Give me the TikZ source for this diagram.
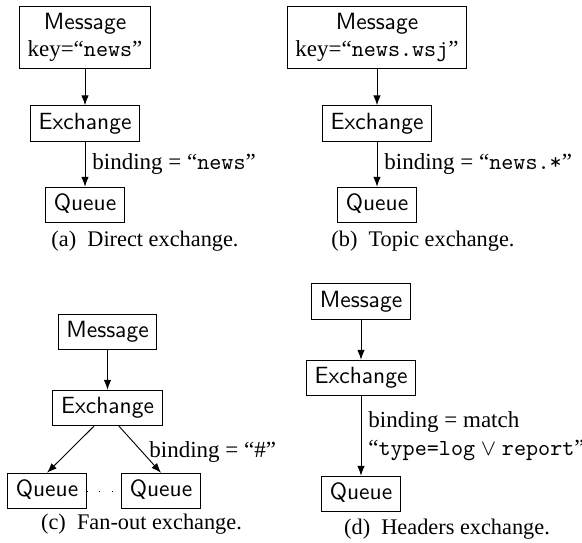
\documentclass[tikz,border=0pt]{standalone}
\usepackage{fontspec}
\setmainfont{Liberation Serif}
\usetikzlibrary{arrows.meta}
\begin{document}
\begin{tikzpicture}[x=0.4348pt,y=-0.4348pt,
  box/.style={draw, font=\fontsize{10.2}{12}\sffamily, inner xsep=3.6pt, inner ysep=3.2pt, text height=7pt, text depth=2pt},
  msgbox/.style={draw, align=center, inner xsep=3.5pt, inner ysep=3pt},
  flow/.style={-{Latex[length=4.3pt,width=3.2pt]}},
  lbl/.style={right, inner sep=3pt, align=left},
  dotline/.style={dash pattern=on 0.4pt off 5pt},
  captxt/.style={inner sep=0pt, anchor=base, font=\fontsize{9.7}{11.6}\selectfont}]
\useasboundingbox (0,0) rectangle (582,543);
% (a)
\node[msgbox] (ma) at (85,37.5) {{\fontsize{10.2}{12}\sffamily Message}\\key=“\texttt{news}”};
\node[box] (ea) at (85,123.5) {Exchange};
\node[box] (qa) at (85,205) {Queue};
\draw[flow] (ma) -- (ea);
\draw[flow] (ea) -- node[lbl] {binding = “\texttt{news}”} (qa);
\node[captxt] (capa) at (145,247) {(a)\enspace Direct exchange.};
% (b)
\node[msgbox] (mb) at (377,37.5) {{\fontsize{10.2}{12}\sffamily Message}\\key=“\texttt{news.wsj}”};
\node[box] (eb) at (377,123.5) {Exchange};
\node[box] (qb) at (377,205) {Queue};
\draw[flow] (mb) -- (eb);
\draw[flow] (eb) -- node[lbl] {binding = “\texttt{news.*}”} (qb);
\node[captxt] (capb) at (423,247) {(b)\enspace Topic exchange.};
% (c)
\node[box] (mc) at (107.5,332) {Message};
\node[box] (ec) at (107.5,408) {Exchange};
\node[box] (qc1) at (47,491) {Queue};
\node[box] (qc2) at (161,491) {Queue};
\draw[flow] (mc) -- (ec);
\coordinate (ecl) at ([xshift=-13.5*0.4348pt]ec.south);
\coordinate (ecr) at ([xshift=11.5*0.4348pt]ec.south);
\draw[flow] (ecl) -- (qc1.north);
\draw[flow] (ecr) -- node[lbl, pos=0.55] {binding = “\#”} (qc2.north);
\draw[dotline] (qc1) -- (qc2);
\node[captxt] (capc) at (141.5,530) {(c)\enspace Fan-out exchange.};
% (d)
\node[box] (md) at (361,301.5) {Message};
\node[box] (ed) at (361,378) {Exchange};
\node[box] (qd) at (361,494) {Queue};
\draw[flow] (md) -- (ed);
\draw[flow] (ed) -- node[lbl] {binding = match\\“\texttt{type=log} $\vee$ \texttt{report}”} (qd);
\node[captxt] (capd) at (447,535) {(d)\enspace Headers exchange.};
\end{tikzpicture}
\end{document}
